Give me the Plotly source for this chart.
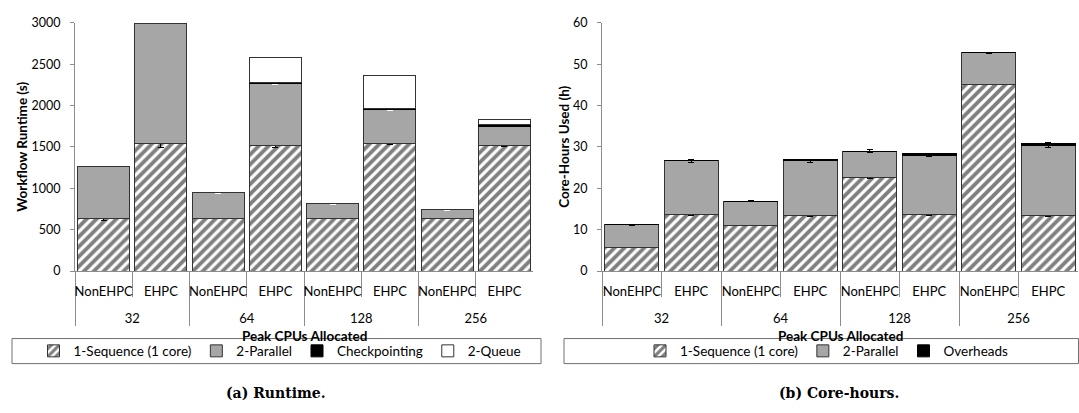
import plotly.graph_objects as go

W, H = 1079, 413

# ---------------- data ----------------
cpus = ["32", "64", "128", "256"]
platforms = ["NonEHPC", "EHPC"]
groups = [c for c in cpus for _ in platforms]
subcats = platforms * len(cpus)

# (a) Runtime (s)
rt_seq = [636, 1539, 636, 1519, 636, 1539, 636, 1519]
rt_par = [631, 1455, 314, 745, 178, 407, 104, 233]
rt_ckpt = [0, 0, 0, 20, 0, 20, 0, 20]
rt_queue = [0, 0, 0, 294, 0, 394, 0, 54]
rt_seq_err = [25, 45, 5, 25, 5, 10, 5, 8]
rt_par_err = [6, 6, 6, 6, 6, 6, 6, 6]

# (b) Core-hours (h)
ch_seq = [5.7, 13.6, 11.1, 13.4, 22.5, 13.6, 45.1, 13.4]
ch_par = [5.5, 13.0, 5.8, 13.2, 6.5, 14.4, 7.6, 17.0]
ch_ovh = [0, 0, 0, 0.4, 0, 0.4, 0, 0.4]
ch_seq_err = [0.08, 0.1, 0.08, 0.1, 0.1, 0.1, 0.1, 0.1]
ch_par_err = [0.15, 0.4, 0.15, 0.35, 0.3, 0.35, 0.1, 0.6]

# ---------------- style ----------------
FONT = "Lato"
OUTLINE = dict(color="#333333", width=1)
AXC = "#8c8c8c"


def px(x):
    return x / W


def py(y):
    return 1 - y / H


hatch = dict(shape="/", fgcolor="black", bgcolor="white", size=7, solidity=0.55)

fig = go.Figure()
# group labels get a leading blank line to open up the two label rows
xcat = [["<br>" + g for g in groups], subcats]

# left chart
fig.add_trace(go.Bar(x=xcat, y=rt_seq, name="1-Sequence (1 core)", xaxis="x", yaxis="y",
                     marker=dict(color="white", line=OUTLINE, pattern=hatch),
                     error_y=dict(type="data", array=rt_seq_err, color="black", thickness=1, width=3),
                     legend="legend"))
fig.add_trace(go.Bar(x=xcat, y=rt_par, name="2-Parallel", xaxis="x", yaxis="y",
                     marker=dict(color="#a6a6a6", line=OUTLINE),
                     error_y=dict(type="data", array=rt_par_err, color="white", thickness=1.5, width=3),
                     legend="legend"))
fig.add_trace(go.Bar(x=xcat, y=rt_ckpt, name="Checkpointing", xaxis="x", yaxis="y",
                     marker=dict(color="black", line=dict(color="black", width=1)),
                     legend="legend"))
fig.add_trace(go.Bar(x=xcat, y=rt_queue, name="2-Queue", xaxis="x", yaxis="y",
                     marker=dict(color="white", line=OUTLINE),
                     legend="legend"))

# right chart
fig.add_trace(go.Bar(x=xcat, y=ch_seq, name="1-Sequence (1 core)", xaxis="x2", yaxis="y2",
                     marker=dict(color="white", line=OUTLINE, pattern=hatch),
                     error_y=dict(type="data", array=ch_seq_err, color="black", thickness=1, width=3),
                     legend="legend2"))
fig.add_trace(go.Bar(x=xcat, y=ch_par, name="2-Parallel", xaxis="x2", yaxis="y2",
                     marker=dict(color="#a6a6a6", line=OUTLINE),
                     error_y=dict(type="data", array=ch_par_err, color="black", thickness=1, width=3),
                     legend="legend2"))
fig.add_trace(go.Bar(x=xcat, y=ch_ovh, name="Overheads", xaxis="x2", yaxis="y2",
                     marker=dict(color="black", line=dict(color="black", width=1)),
                     legend="legend2"))

xax = dict(type="multicategory", showline=True, linecolor=AXC, linewidth=1,
           ticks="outside", tickson="boundaries", ticklen=25, tickcolor=AXC, tickangle=0,
           showdividers=True, dividercolor=AXC, dividerwidth=1,
           showgrid=False, zeroline=False, ticklabelstandoff=8,
           tickfont=dict(family=FONT, size=13, color="black"))
yax = dict(showline=True, linecolor=AXC, linewidth=1, ticks="outside", ticklen=4,
           tickcolor=AXC, showgrid=False, zeroline=False,
           tickfont=dict(family=FONT, size=12.5, color="black"), ticklabelstandoff=7)

fig.update_layout(
    width=W, height=H, margin=dict(l=0, r=0, t=0, b=0),
    paper_bgcolor="white", plot_bgcolor="white",
    barmode="stack", bargap=0.09,
    font=dict(family=FONT, size=13, color="black"),
    xaxis=dict(xax, domain=[px(75), px(533)], anchor="y"),
    yaxis=dict(yax, domain=[py(273), py(15.3)], range=[0, 3000], dtick=500, anchor="x"),
    xaxis2=dict(xax, domain=[px(602), px(1078)], anchor="y2"),
    yaxis2=dict(yax, domain=[py(273), py(15.3)], range=[0, 60], dtick=10, anchor="x2"),
    legend=dict(orientation="h", x=px(280), xanchor="center", y=py(356), yanchor="middle",
                bgcolor="rgba(0,0,0,0)", borderwidth=0, traceorder="normal",
                font=dict(family=FONT, size=13.5)),
    legend2=dict(orientation="h", x=px(827), xanchor="center", y=py(356), yanchor="middle",
                 bgcolor="rgba(0,0,0,0)", borderwidth=0, traceorder="normal",
                 font=dict(family=FONT, size=13.5)),
    showlegend=True,
)

shapes = [
    dict(type="rect", xref="paper", yref="paper", x0=px(12), x1=px(541), y0=py(369), y1=py(343),
         line=dict(color="#707070", width=1)),
    dict(type="rect", xref="paper", yref="paper", x0=px(564), x1=px(1078.5), y0=py(369), y1=py(343),
         line=dict(color="#707070", width=1)),
]
fig.update_layout(shapes=shapes)

ann = []
def label(text, x, y, size=13.5, bold=True, angle=0, family=FONT):
    ann.append(dict(text=f"<b>{text}</b>" if bold else text, x=px(x), y=py(y), xref="paper", yref="paper",
                    showarrow=False, textangle=angle, xanchor="center", yanchor="middle",
                    font=dict(family=family, size=size, color="black")))

label("Workflow Runtime (s)", 22, 144, angle=-90)
label("Core-Hours Used (h)", 564, 144, angle=-90)
label("Peak CPUs Allocated", 304, 340)
label("Peak CPUs Allocated", 840, 340)
label("(a) Runtime.", 276, 400, size=14, family="DejaVu Serif")
label("(b) Core-hours.", 839, 400, size=14, family="DejaVu Serif")
fig.update_layout(annotations=ann)

fig.write_html("out.html")
